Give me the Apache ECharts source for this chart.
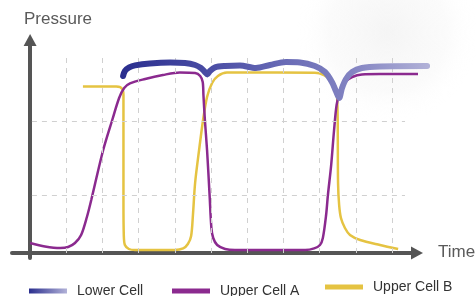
<!DOCTYPE html>
<html>
<head>
<meta charset="utf-8">
<script src="https://cdn.jsdelivr.net/npm/echarts@6/dist/echarts.min.js"></script>
<style>
  html, body { margin: 0; padding: 0; background: #fff; }
  #chart_pressure { width: 476px; height: 296px; }
</style>
</head>
<body>
<div id="chart_pressure"></div>
<script>
// [time, pressure] (one grid column = 1 time unit, pressure 0..100)
const lowerCell = [
  [2.57, 88.5], [2.62, 91], [2.74, 92.8], [2.90, 93.8], [3.31, 94.8], [3.87, 95.3],
  [4.28, 95], [4.56, 94], [4.72, 92.5], [4.83, 90.5], [4.90, 89.3], [4.97, 91],
  [5.11, 92.8], [5.39, 93.5], [5.80, 93.8], [6.24, 92.5], [6.63, 94], [7.07, 95.5],
  [7.46, 95.3], [7.87, 93.5], [8.15, 90.5], [8.34, 85.5], [8.45, 81], [8.54, 77.5],
  [8.62, 82.5], [8.73, 87], [8.90, 90.5], [9.17, 92.5], [9.67, 93.3], [10.97, 93.5]
]
const upperCellA = [
  [0, 5], [0.41, 3.3], [0.83, 2.5], [1.05, 3], [1.24, 5], [1.41, 9], [1.57, 18],
  [1.69, 26.5], [1.80, 35], [2.02, 51.5], [2.27, 66.5], [2.46, 77.5], [2.60, 82.5],
  [2.76, 84.8], [3.18, 87], [3.67, 89], [4.14, 90.3], [4.56, 90], [4.70, 88.5],
  [4.77, 85.5], [4.79, 79], [4.83, 66.5], [4.89, 51.5], [4.96, 29], [5.01, 12.5],
  [5.06, 7.5], [5.17, 4], [5.39, 2], [5.66, 1.5], [7.60, 1.5], [7.85, 2.3],
  [8.01, 4], [8.09, 7.5], [8.18, 19], [8.23, 29], [8.32, 44], [8.40, 61.5],
  [8.47, 74], [8.56, 80.5], [8.70, 85.5], [8.90, 88], [9.17, 89.3], [9.67, 89.5],
  [10.72, 89.5]
]
const upperCellB = [
  [1.46, 83.2], [2.38, 83.2], [2.49, 82.9], [2.56, 81.5], [2.58, 79], [2.58, 71.5],
  [2.58, 26.5], [2.59, 8.5], [2.62, 4], [2.73, 2], [2.90, 1.5], [4.00, 1.5],
  [4.23, 2.3], [4.36, 4.5], [4.45, 8.5], [4.50, 19], [4.56, 35], [4.67, 51.5],
  [4.78, 66.5], [4.89, 78], [5.03, 85], [5.19, 88.5], [5.44, 90.2], [5.80, 90.2],
  [7.87, 90.1], [8.12, 89], [8.31, 86.5], [8.43, 83.5], [8.48, 79], [8.50, 66.5],
  [8.51, 35], [8.54, 24], [8.59, 17.5], [8.70, 12.5], [8.84, 9], [9.12, 6.5],
  [9.67, 4], [10.17, 2]
]
// dashed guide lines
const gridTimes = [1, 2, 3, 4, 5, 6, 7, 8, 9, 10]
const gridPressures = [29, 66]

const font = 'Liberation Sans, Arial, sans-serif'
const myChart = echarts.init(document.getElementById('chart_pressure'))

const blueGrad = new echarts.graphic.LinearGradient(0, 0, 1, 0, [
  { offset: 0, color: '#2a2e8e' },
  { offset: 0.3, color: '#4b4ea5' },
  { offset: 0.55, color: '#6b6db7' },
  { offset: 0.75, color: '#8384c2' },
  { offset: 1, color: '#b2b2d8' }
])
const legendBlue = new echarts.graphic.LinearGradient(0, 0, 1, 0, [
  { offset: 0, color: '#2a2e8e' },
  { offset: 1, color: '#b2b2d8' }
])

const guideLines = []
gridTimes.forEach(t => guideLines.push([{ coord: [t, 0] }, { coord: [t, 100] }]))
gridPressures.forEach(p => guideLines.push([{ coord: [0.05, p] }, { coord: [10.36, p] }]))

const hiddenAxis = {
  axisLine: { show: false },
  axisTick: { show: false },
  axisLabel: { show: false },
  splitLine: { show: false }
}
const arrowLine = {
  onZero: true,
  symbol: ['none', 'triangle'],
  symbolSize: [13, 12],
  lineStyle: { color: '#555', width: 4 }
}
const legendText = { fontFamily: font, fontSize: 14, color: '#333', padding: [0, 0, 0, 5] }

const option = {
  animation: false,
  graphic: [
    {
      type: 'rect', left: 200, top: 0, z: -10, silent: true,
      shape: { width: 276, height: 130 },
      style: {
        fill: new echarts.graphic.RadialGradient(0.68, 0.25, 0.7, [
          { offset: 0, color: 'rgba(236,236,236,0.55)' },
          { offset: 0.65, color: 'rgba(243,243,243,0.35)' },
          { offset: 1, color: 'rgba(255,255,255,0)' }
        ])
      }
    },
    {
      type: 'text', left: 24, top: 11,
      style: { text: 'Pressure', font: '17px ' + font, fill: '#5a5a5a' }
    },
    {
      type: 'text', left: 438, top: 244,
      style: { text: 'Time', font: '17px ' + font, fill: '#5a5a5a' }
    }
  ],
  // grid 0 carries the data, grid 1 only the two arrowed axes
  grid: [
    { left: 12, right: 40.6, top: 40, bottom: 38 },
    { left: 12, right: 59, top: 40, bottom: 38 }
  ],
  legend: [
    {
      left: 29, top: 284, padding: 0, icon: 'rect', itemWidth: 38, itemHeight: 5,
      textStyle: legendText,
      data: [{ name: 'Lower Cell', itemStyle: { color: legendBlue } }]
    },
    {
      left: 172, top: 284, padding: 0, icon: 'rect', itemWidth: 38, itemHeight: 5,
      textStyle: legendText,
      data: ['Upper Cell A']
    },
    {
      left: 325, top: 280, padding: 0, icon: 'rect', itemWidth: 38, itemHeight: 5,
      textStyle: Object.assign({}, legendText, { padding: [0, 0, 8, 5] }),
      data: ['Upper Cell B']
    }
  ],
  xAxis: [
    Object.assign({ type: 'value', gridIndex: 0, min: -0.5, max: 11.2 }, hiddenAxis),
    {
      type: 'value', gridIndex: 1, min: -0.5, max: 10.69,
      axisLine: arrowLine,
      axisTick: { show: false },
      axisLabel: { show: false },
      splitLine: { show: false }
    }
  ],
  yAxis: [
    Object.assign({ type: 'value', gridIndex: 0, min: -2.5, max: 106.5 }, hiddenAxis),
    {
      type: 'value', gridIndex: 1, min: -2.5, max: 106.5,
      axisLine: arrowLine,
      axisTick: { show: false },
      axisLabel: { show: false },
      splitLine: { show: false }
    }
  ],
  series: [
    {
      name: 'guides',
      type: 'line',
      data: [],
      z: 1,
      silent: true,
      markLine: {
        silent: true,
        symbol: ['none', 'none'],
        label: { show: false },
        emphasis: { disabled: true },
        lineStyle: { color: '#d0d0d0', width: 1, type: [5, 5] },
        data: guideLines
      }
    },
    {
      name: 'Upper Cell B',
      type: 'line',
      data: upperCellB,
      z: 3,
      smooth: 0.3,
      showSymbol: false,
      itemStyle: { color: '#e5c342' },
      lineStyle: { color: '#e5c342', width: 2.5 }
    },
    {
      name: 'Upper Cell A',
      type: 'line',
      data: upperCellA,
      z: 4,
      smooth: 0.3,
      showSymbol: false,
      itemStyle: { color: '#8b2a8f' },
      lineStyle: { color: '#8b2a8f', width: 2.5 }
    },
    {
      name: 'Lower Cell',
      type: 'line',
      data: lowerCell,
      z: 5,
      smooth: 0.3,
      showSymbol: false,
      itemStyle: { color: blueGrad },
      lineStyle: { color: blueGrad, width: 6, cap: 'round' }
    }
  ]
}

myChart.setOption(option)
window.addEventListener('resize', function() {
  myChart.resize()
})
</script>
</body>
</html>
